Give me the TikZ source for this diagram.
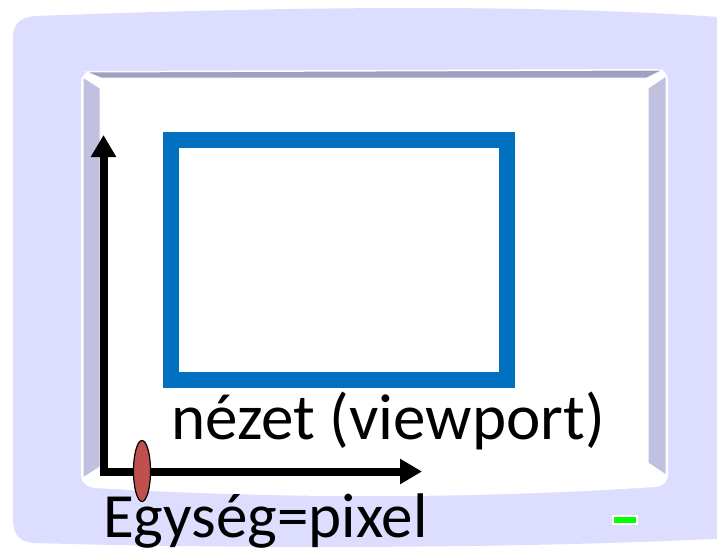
\documentclass[tikz,border=0pt]{standalone}
\usepackage{fontspec}
\setmainfont{Carlito}
\usetikzlibrary{arrows.meta,shapes.geometric}
\definecolor{bodylav}{HTML}{DDDDFF}
\definecolor{bevellav}{HTML}{C0C0E0}
\definecolor{toplav}{HTML}{A0A0C0}
\definecolor{vpblue}{HTML}{0070C0}
\definecolor{unitred}{HTML}{C0504D}
\tikzset{
	bevel/.style={fill=bevellav,draw=white,line width=1pt},
	axis/.style={line width=8pt,{Triangle[width=24pt,length=22pt]}-{Triangle[width=24pt,length=22pt]}},
	bigtext/.style={anchor=base west,inner sep=0pt},
}

\begin{document}
\begin{tikzpicture}[x=1pt,y=-1pt]
\useasboundingbox (0,0) rectangle (717,550);
% monitor body
\fill[bodylav] (13,38) .. controls (13,24) and (20,17) .. (36,16) .. controls (300,6) and (550,4) .. (732,18)
	-- (732,538) .. controls (500,550) and (200,548) .. (34,543) .. controls (20,542) and (13,535) .. (13,520) -- cycle;
% screen
\filldraw[fill=white,draw=white,line width=2pt] (82,84) .. controls (82,76) and (86,72) .. (94,72) -- (656,70)
	.. controls (663,70) and (667,74) .. (667,81) -- (667,474) .. controls (667,481) and (663,485) .. (655,486)
	.. controls (470,498) and (280,498) .. (95,487) .. controls (87,486) and (82,482) .. (82,475) -- cycle;
\filldraw[bevel,fill=toplav] (86,72) -- (663,70) -- (647,78) -- (101,78) -- cycle;
\filldraw[bevel] (83,77) -- (100,88) -- (100,467) -- (83,478) -- cycle;
\filldraw[bevel] (666,76) -- (648,88) -- (648,463) -- (666,475) -- cycle;
% viewport
\node[draw=vpblue,line width=16pt,minimum width=336pt,minimum height=240pt,inner sep=0pt] (viewport) at (339,260) {};
\node[bigtext,font=\fontsize{65}{72}\selectfont] (vplabel) at (171,439) {nézet (viewport)};
% axes
\coordinate (ytip) at (103.5,135);
\coordinate (xtip) at (422,471.5);
\draw[axis] (ytip) |- (xtip);
\node[ellipse,draw=black,line width=1.2pt,fill=unitred,minimum width=17pt,minimum height=61pt,inner sep=0pt] (unit) at (142,471) {};
\node[bigtext,font=\fontsize{63}{70}\selectfont] (unitlabel) at (103,537) {Egység=pixel};
\node[draw=white,line width=2pt,fill=green,minimum width=24pt,minimum height=8pt,inner sep=0pt] (mark) at (624.5,520) {};
\end{tikzpicture}
\end{document}
